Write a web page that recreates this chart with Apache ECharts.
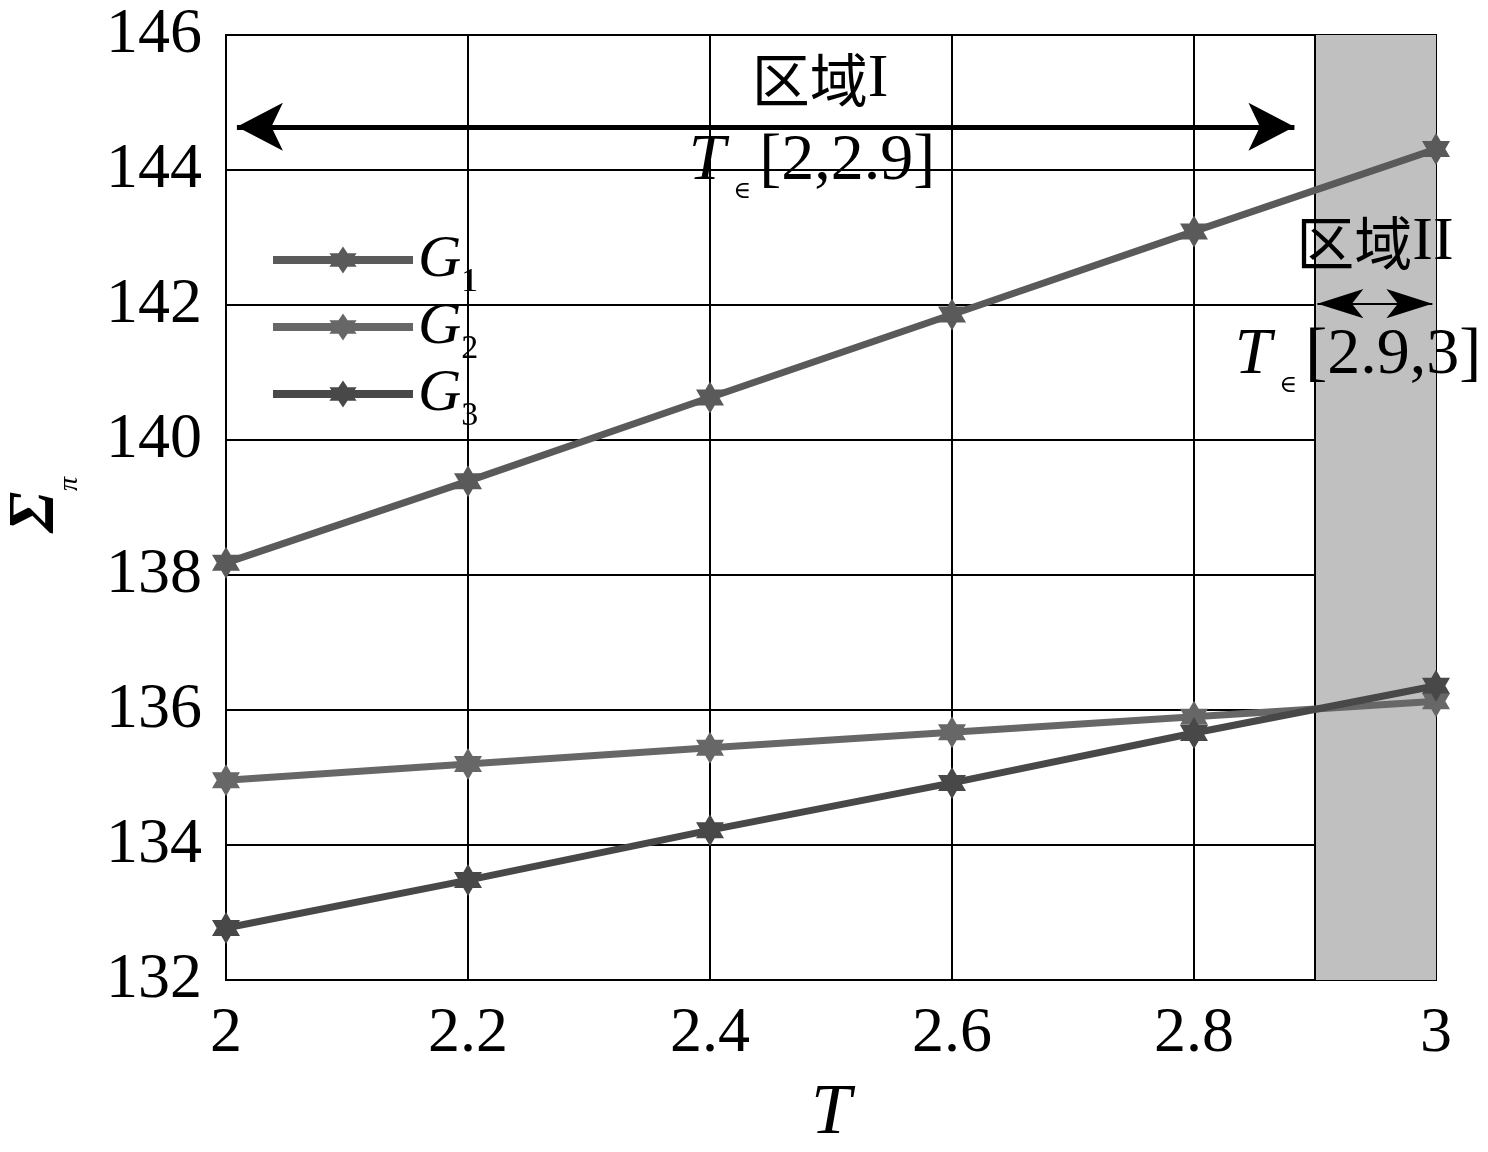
<!DOCTYPE html>
<html>
<head>
<meta charset="utf-8">
<script src="https://cdn.jsdelivr.net/npm/echarts@6/dist/echarts.min.js"></script>
<style>html,body{margin:0;padding:0;background:#fff}#c{width:1488px;height:1152px}</style>
</head>
<body>
<div id="c"></div>
<script>
const T = [2, 2.2, 2.4, 2.6, 2.8, 3];
const G1 = [138.18, 139.39, 140.63, 141.86, 143.09, 144.31];
const G2 = [134.96, 135.2, 135.44, 135.67, 135.9, 136.13];
const G3 = [132.77, 133.48, 134.22, 134.92, 135.66, 136.36];
const seriesNames = ['G1', 'G2', 'G3'];
const seriesColors = ['#5a5a5a', '#676767', '#484848'];
const regionI = [2, 2.9];
const regionII = [2.9, 3];

const SERIF = '"Liberation Serif", "DejaVu Serif", serif';
const CJK = '"Noto Sans CJK SC", sans-serif';
const STAR = 'path://M50,0 L93.3,75 L6.7,75 Z M50,100 L6.7,25 L93.3,25 Z';

const chart = echarts.init(document.getElementById('c'), null, {renderer: 'canvas'});

function pairs(ys) { return T.map((t, i) => [t, ys[i]]); }

const lineSeries = [G1, G2, G3].map((ys, i) => ({
  name: seriesNames[i],
  type: 'line',
  data: pairs(ys),
  z: 5,
  symbol: STAR,
  symbolSize: [28, 32],
  showAllSymbol: true,
  lineStyle: {color: seriesColors[i], width: 7},
  itemStyle: {color: seriesColors[i]},
  emphasis: {disabled: true},
  animation: false
}));

const option = {
  animation: false,
  backgroundColor: '#fff',
  grid: {left: 226, right: 52, top: 35, bottom: 172, show: true, borderColor: '#000', borderWidth: 2,
         outerBoundsMode: 'none', containLabel: false},
  xAxis: {
    type: 'value', min: 2, max: 3, interval: 0.2,
    name: 'T', nameLocation: 'middle', nameGap: 98,
    nameTextStyle: {fontFamily: SERIF, fontStyle: 'italic', fontSize: 72, color: '#000'},
    axisLine: {lineStyle: {color: '#000', width: 2}},
    axisTick: {show: false},
    splitLine: {show: true, lineStyle: {color: '#000', width: 2}},
    axisLabel: {
      fontFamily: SERIF, fontSize: 64, color: '#000', margin: 22,
      formatter: v => String(Math.round(v * 10) / 10)
    }
  },
  yAxis: {
    type: 'value', min: 132, max: 146, interval: 2,
    axisLine: {lineStyle: {color: '#000', width: 2}},
    axisTick: {show: false},
    splitLine: {show: true, lineStyle: {color: '#000', width: 2}},
    axisLabel: {fontFamily: SERIF, fontSize: 64, color: '#000', margin: 24}
  },
  legend: {
    orient: 'vertical', left: 264, top: 215,
    itemWidth: 140, itemHeight: 34, itemGap: -13,
    data: seriesNames,
    lineStyle: {width: 8},
    formatter: n => '{g|G}{s|' + n.slice(1) + '}',
    textStyle: {
      rich: {
        g: {fontFamily: SERIF, fontStyle: 'italic', fontSize: 60, lineHeight: 58, color: '#000', padding: [10, 0, 10, 0]},
        s: {fontFamily: SERIF, fontSize: 34, lineHeight: 34, color: '#000', padding: [44, 0, 0, 0]}
      }
    }
  },
  series: [
    {
      type: 'line', data: [], z: 1, silent: true,
      markArea: {
        silent: true,
        itemStyle: {color: '#c0c0c0'},
        data: [[{xAxis: regionII[0]}, {xAxis: regionII[1]}]]
      },
      markLine: {
        silent: true, symbol: 'none', label: {show: false},
        lineStyle: {color: '#000', width: 2, type: 'solid'},
        data: [{xAxis: regionII[0]}]
      }
    },
    {
      type: 'line', data: [], z: 4, silent: true,
      markLine: {
        silent: true, symbol: ['arrow', 'arrow'], symbolSize: [36, 46], label: {show: false},
        lineStyle: {color: '#000', width: 5, type: 'solid'},
        data: [[{coord: [regionI[0] + 0.009, 144.64]}, {coord: [regionI[1] - 0.017, 144.64]}]]
      }
    },
    {
      type: 'line', data: [], z: 4, silent: true,
      markLine: {
        silent: true, symbol: ['arrow', 'arrow'], symbolSize: [22, 46], label: {show: false},
        lineStyle: {color: '#000', width: 2, type: 'solid'},
        data: [[{coord: [regionII[0] + 0.002, 142.02]}, {coord: [regionII[1] - 0.003, 142.02]}]]
      }
    }
  ].concat(lineSeries),
  graphic: [
    {type: 'text', x: 820, y: 80, z: 10, style: {
      text: '{c|区域}{r|I}', align: 'center', verticalAlign: 'middle',
      rich: {c: {font: '58px ' + CJK, fill: '#000'}, r: {font: '62px ' + SERIF, fill: '#000'}}
    }},
    {type: 'text', x: 812, y: 172, z: 10, style: {
      text: '{t|T}{e|∈}{n|[2,2.9]}', align: 'center', verticalAlign: 'middle',
      rich: {
        t: {font: 'italic 66px ' + SERIF, fill: '#000', padding: [0, 0, 20, 0]},
        e: {font: '24px ' + SERIF, fill: '#000', padding: [40, 8, 0, 8]},
        n: {font: '66px ' + SERIF, fill: '#000', padding: [0, 0, 20, 0]}
      }
    }},
    {type: 'text', x: 1375, y: 243, z: 10, style: {
      text: '{c|区域}{r|II}', align: 'center', verticalAlign: 'middle',
      rich: {c: {font: '58px ' + CJK, fill: '#000'}, r: {font: '62px ' + SERIF, fill: '#000'}}
    }},
    {type: 'text', x: 1358, y: 366, z: 10, style: {
      text: '{t|T}{e|∈}{n|[2.9,3]}', align: 'center', verticalAlign: 'middle',
      rich: {
        t: {font: 'italic 66px ' + SERIF, fill: '#000', padding: [0, 0, 20, 0]},
        e: {font: '24px ' + SERIF, fill: '#000', padding: [40, 8, 0, 8]},
        n: {font: '66px ' + SERIF, fill: '#000', padding: [0, 0, 20, 0]}
      }
    }},
    {type: 'text', x: 36, y: 512, rotation: Math.PI / 2, z: 10, style: {
      text: 'Σ', align: 'center', verticalAlign: 'middle', font: 'italic bold 66px ' + SERIF, fill: '#000'
    }},
    {type: 'text', x: 70, y: 484, rotation: Math.PI / 2, z: 10, style: {
      text: 'π', align: 'center', verticalAlign: 'middle', font: 'italic 28px ' + SERIF, fill: '#000'
    }}
  ]
};
chart.setOption(option);
</script>
</body>
</html>
